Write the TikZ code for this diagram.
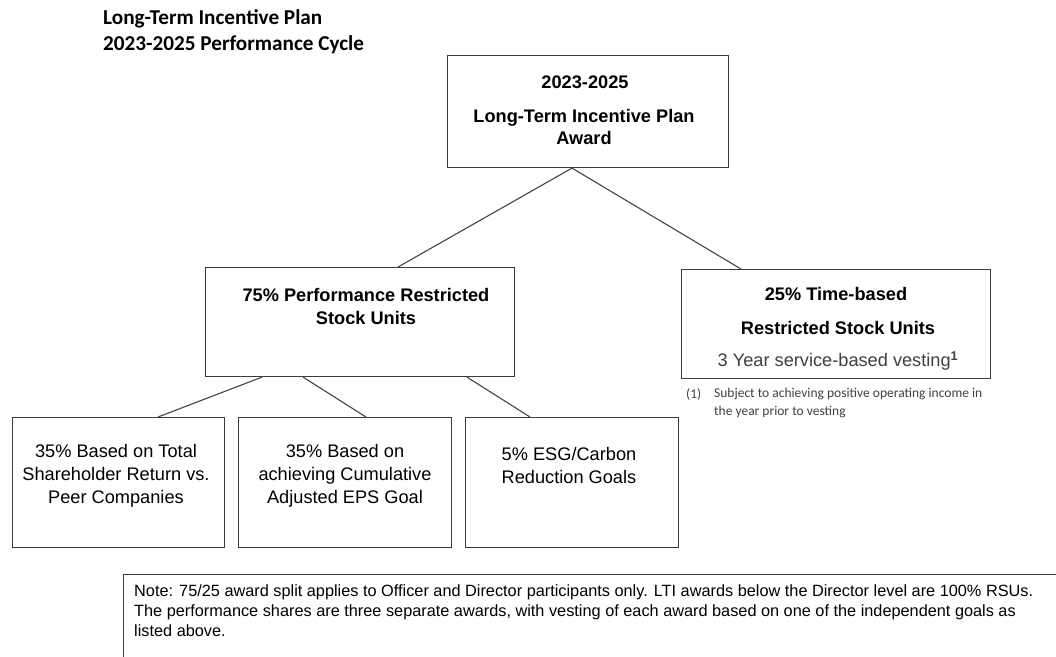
\documentclass[tikz,border=0pt]{standalone}
\usepackage{fontspec}
\setmainfont{Liberation Sans}
\newfontfamily\calibri{Carlito}
\usetikzlibrary{positioning}

\definecolor{boxgray}{HTML}{3C3C3C}
\definecolor{linegray}{HTML}{444444}
\definecolor{softgray}{HTML}{404040}

\tikzset{
  box/.style={draw=boxgray, line width=1.1pt, inner sep=0pt, anchor=north west},
  link/.style={draw=linegray, line width=1.1pt},
  boldtext/.style={align=center, inner sep=0pt, font=\fontsize{18.2}{22}\selectfont\bfseries},
  plaintext/.style={align=center, inner sep=0pt, font=\fontsize{18.2}{23}\selectfont},
}

\begin{document}
\begin{tikzpicture}[x=1pt, y=-1pt]
  \clip (0,0) rectangle (1056,656);
  \fill[white] (0,0) rectangle (1056,656);

  %%% heading
  \node[anchor=north west, align=left, inner sep=0pt,
        font=\calibri\bfseries\fontsize{21.2}{26}\selectfont] (heading) at (103,9)
        {Long-Term Incentive Plan\\2023-2025 Performance Cycle};

  %%% boxes
  \node[box, minimum width=281, minimum height=112] (award) at (447,55) {};
  \node[box, minimum width=309, minimum height=109] (perf) at (205,267) {};
  \node[box, minimum width=309, minimum height=109] (time) at (681,269) {};
  \node[box, minimum width=212, minimum height=130] (tsr) at (12,417) {};
  \node[box, minimum width=213, minimum height=130] (eps) at (238,417) {};
  \node[box, minimum width=213, minimum height=130] (esg) at (465,417) {};
  \node[box, minimum width=960, minimum height=110] (note) at (123,574) {};

  %%% box texts
  \node[boldtext] (award-yr) at (585,82) {2023-2025};
  \node[boldtext] (award-txt) at (584,127) {Long-Term Incentive Plan\\Award};
  \node[boldtext, font=\fontsize{18.2}{23}\selectfont\bfseries] (perf-txt) at (366,306)
        {75\% Performance Restricted\\Stock Units};
  \node[boldtext] (time-top) at (836,294) {25\% Time-based};
  \node[boldtext] (time-mid) at (838,328) {Restricted Stock Units};
  \node[plaintext, text=softgray] (time-low) at (838,361)
        {3 Year service-based vesting\textsuperscript{\bfseries 1}};
  \node[plaintext] (tsr-txt) at (116,476)
        {35\% Based on Total\\Shareholder Return vs.\\Peer Companies};
  \node[plaintext] (eps-txt) at (345,476)
        {35\% Based on\\achieving Cumulative\\Adjusted EPS Goal};
  \node[plaintext] (esg-txt) at (569,465) {5\% ESG/Carbon\\Reduction Goals};

  %%% footnote
  \node[anchor=west, inner sep=0pt, text=softgray,
        font=\calibri\fontsize{13.5}{17.5}\selectfont] (fn-num) at (686,394) {(1)};
  \node[anchor=north west, align=left, inner sep=0pt, text=softgray,
        font=\calibri\fontsize{13.5}{17.5}\selectfont] (fn-txt) at (714,388)
        {Subject to achieving positive operating income in\\the year prior to vesting};

  %%% note
  \node[anchor=north west, align=left, inner sep=0pt,
        font=\fontsize{16.3}{20}\selectfont] (note-txt) at (134,584)
        {Note: 75/25 award split applies to Officer and Director participants only. LTI awards below the Director level are 100\% RSUs.\\
         The performance shares are three separate awards, with vesting of each award based on one of the independent goals as\\
         listed above.};

  %%% links
  \draw[link] ([xshift=125]award.south west) -- ([xshift=193]perf.north west);
  \draw[link] ([xshift=125]award.south west) -- ([xshift=60]time.north west);
  \draw[link] ([xshift=57]perf.south west) -- ([xshift=146]tsr.north west);
  \draw[link] ([xshift=98]perf.south west) -- ([xshift=128]eps.north west);
  \draw[link] ([xshift=262]perf.south west) -- ([xshift=65]esg.north west);
\end{tikzpicture}
\end{document}
